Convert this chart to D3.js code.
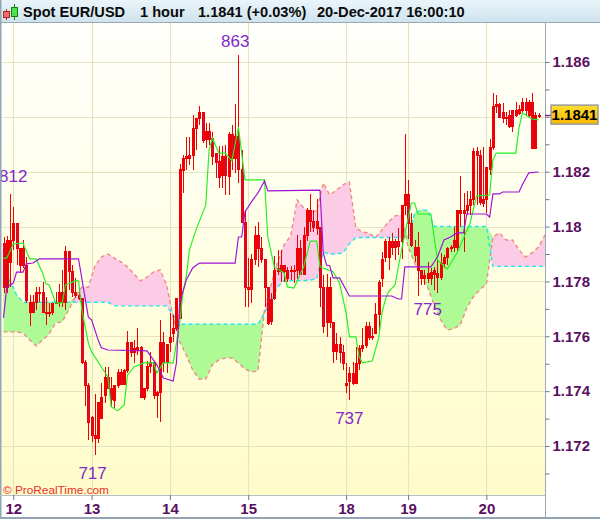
<!DOCTYPE html>
<html><head><meta charset="utf-8">
<script src="https://cdn.jsdelivr.net/npm/d3@7"></script>
<style>html,body{margin:0;padding:0;background:#fff}svg{display:block}</style>
</head><body><svg id="c" width="600" height="519"></svg>
<script>
const opens=[1.17940,1.17779,1.17871,1.17951,1.18013,1.17860,1.17922,1.17860,1.17689,1.17726,1.17726,1.17762,1.17762,1.17689,1.17689,1.17689,1.17722,1.17726,1.17762,1.17726,1.17911,1.17838,1.17762,1.17751,1.17740,1.17507,1.17423,1.17306,1.17241,1.17230,1.17303,1.17386,1.17451,1.17412,1.17368,1.17423,1.17470,1.17426,1.17477,1.17580,1.17543,1.17550,1.17561,1.17378,1.17412,1.17507,1.17507,1.17386,1.17397,1.17580,1.17507,1.17580,1.17612,1.17631,1.17667,1.18206,1.18250,1.18261,1.18261,1.18360,1.18396,1.18418,1.18319,1.18348,1.18323,1.18268,1.18239,1.18188,1.18257,1.18184,1.18337,1.18250,1.18330,1.18210,1.18017,1.17779,1.17772,1.17882,1.17970,1.17922,1.17882,1.17779,1.17656,1.17740,1.17838,1.17838,1.17860,1.17813,1.17842,1.17842,1.17842,1.17922,1.17827,1.17970,1.18061,1.18020,1.17995,1.17999,1.17779,1.17779,1.17653,1.17653,1.17546,1.17572,1.17543,1.17423,1.17437,1.17466,1.17430,1.17503,1.17558,1.17569,1.17638,1.17598,1.17612,1.17681,1.17813,1.17889,1.17889,1.17947,1.17947,1.17947,1.17947,1.18079,1.18118,1.18013,1.17926,1.17926,1.17842,1.17824,1.17813,1.17813,1.17842,1.17831,1.17816,1.17867,1.17889,1.17922,1.17951,1.17926,1.18061,1.18061,1.18061,1.18079,1.18100,1.18275,1.18261,1.18100,1.18100,1.18210,1.18290,1.18439,1.18446,1.18418,1.18400,1.18407,1.18425,1.18407,1.18414,1.18425,1.18454,1.18407,1.18454,1.18286,1.18407];
const highs=[1.17962,1.17966,1.18118,1.18072,1.18013,1.17922,1.17951,1.17889,1.17751,1.17751,1.17779,1.17779,1.17798,1.17744,1.17722,1.17722,1.17762,1.17791,1.17842,1.17929,1.17911,1.17860,1.17813,1.17769,1.17740,1.17514,1.17430,1.17310,1.17390,1.17361,1.17430,1.17488,1.17488,1.17451,1.17423,1.17481,1.17481,1.17481,1.17619,1.17580,1.17587,1.17631,1.17565,1.17412,1.17510,1.17543,1.17510,1.17401,1.17660,1.17616,1.17572,1.17685,1.17678,1.17740,1.18228,1.18261,1.18327,1.18327,1.18407,1.18396,1.18439,1.18418,1.18378,1.18378,1.18345,1.18268,1.18294,1.18294,1.18297,1.18345,1.18370,1.18446,1.18626,1.18279,1.18061,1.17885,1.17900,1.18002,1.18017,1.17962,1.17882,1.17779,1.17758,1.17893,1.17915,1.17915,1.17860,1.17853,1.17856,1.17860,1.17970,1.17951,1.17999,1.18068,1.18118,1.18061,1.18100,1.17999,1.17824,1.17827,1.17816,1.17653,1.17612,1.17598,1.17569,1.17503,1.17488,1.17507,1.17561,1.17569,1.17631,1.17653,1.17653,1.17631,1.17722,1.17805,1.17907,1.17955,1.17962,1.17977,1.17955,1.17995,1.18079,1.18337,1.18170,1.18050,1.17951,1.17980,1.17842,1.17842,1.17871,1.17849,1.17853,1.17878,1.17904,1.17896,1.17926,1.17933,1.17999,1.18061,1.18184,1.18122,1.18129,1.18129,1.18286,1.18290,1.18279,1.18290,1.18217,1.18319,1.18487,1.18480,1.18450,1.18450,1.18418,1.18425,1.18425,1.18454,1.18443,1.18468,1.18468,1.18461,1.18487,1.18418,1.18414];
const lows=[1.17758,1.17758,1.17779,1.17915,1.17860,1.17831,1.17849,1.17722,1.17638,1.17689,1.17696,1.17726,1.17685,1.17642,1.17671,1.17678,1.17722,1.17707,1.17707,1.17696,1.17769,1.17744,1.17740,1.17733,1.17499,1.17346,1.17222,1.17215,1.17168,1.17211,1.17303,1.17357,1.17412,1.17343,1.17339,1.17412,1.17423,1.17423,1.17466,1.17525,1.17503,1.17532,1.17375,1.17368,1.17401,1.17466,1.17372,1.17303,1.17288,1.17470,1.17466,1.17543,1.17580,1.17619,1.17667,1.18122,1.18206,1.18225,1.18206,1.18279,1.18370,1.18305,1.18286,1.18297,1.18225,1.18177,1.18141,1.18141,1.18115,1.18115,1.18206,1.18195,1.18159,1.18017,1.17707,1.17707,1.17722,1.17860,1.17853,1.17867,1.17707,1.17642,1.17642,1.17733,1.17824,1.17798,1.17798,1.17798,1.17805,1.17795,1.17809,1.17827,1.17827,1.17947,1.17980,1.17980,1.17970,1.17707,1.17612,1.17598,1.17631,1.17503,1.17514,1.17503,1.17477,1.17393,1.17368,1.17423,1.17430,1.17477,1.17543,1.17558,1.17587,1.17587,1.17612,1.17612,1.17779,1.17871,1.17842,1.17896,1.17878,1.17896,1.17882,1.18042,1.17955,1.17926,1.17871,1.17747,1.17787,1.17787,1.17795,1.17787,1.17769,1.17758,1.17805,1.17849,1.17860,1.17907,1.17907,1.17907,1.17999,1.17907,1.18042,1.18042,1.18079,1.18079,1.18079,1.18072,1.18050,1.18188,1.18279,1.18414,1.18396,1.18378,1.18370,1.18360,1.18345,1.18400,1.18407,1.18414,1.18407,1.18396,1.18286,1.18286,1.18396];
const closes=[1.17779,1.17951,1.17951,1.18013,1.17922,1.17922,1.17860,1.17733,1.17726,1.17689,1.17762,1.17762,1.17689,1.17689,1.17689,1.17722,1.17726,1.17762,1.17726,1.17911,1.17838,1.17762,1.17751,1.17740,1.17507,1.17423,1.17288,1.17241,1.17230,1.17361,1.17378,1.17451,1.17412,1.17372,1.17423,1.17470,1.17426,1.17477,1.17580,1.17543,1.17558,1.17561,1.17378,1.17412,1.17492,1.17492,1.17386,1.17397,1.17580,1.17507,1.17572,1.17598,1.17631,1.17740,1.18210,1.18250,1.18257,1.18250,1.18360,1.18396,1.18418,1.18316,1.18348,1.18319,1.18257,1.18235,1.18181,1.18257,1.18188,1.18337,1.18250,1.18330,1.18210,1.18017,1.17779,1.17772,1.17882,1.17970,1.17922,1.17882,1.17779,1.17649,1.17736,1.17842,1.17849,1.17860,1.17838,1.17842,1.17842,1.17842,1.17922,1.17827,1.17970,1.18061,1.18020,1.17999,1.18020,1.17779,1.17638,1.17653,1.17779,1.17546,1.17572,1.17543,1.17503,1.17430,1.17466,1.17430,1.17503,1.17558,1.17569,1.17638,1.17598,1.17601,1.17681,1.17798,1.17882,1.17947,1.17947,1.17926,1.17926,1.17929,1.18079,1.18118,1.18013,1.17933,1.17896,1.17842,1.17813,1.17813,1.17831,1.17835,1.17827,1.17816,1.17867,1.17889,1.17922,1.17926,1.17926,1.18061,1.18050,1.18050,1.18079,1.18100,1.18275,1.18261,1.18090,1.18086,1.18217,1.18290,1.18439,1.18446,1.18400,1.18396,1.18396,1.18367,1.18367,1.18425,1.18429,1.18454,1.18425,1.18454,1.18286,1.18407,1.18407];

const conversionBars=[0,1,2,3,6,8,10,12,13,14,16,18,19,22,23,24,26,27,30,32,33,35,37,38,40,43,46,47,49,52,53,54,55,56,57,59,62,63,64,66,68,70,72,74,80,81,83,86,87,89,92,94,96,97,98,101,103,105,106,108,109,110,113,115,116,117,118,120,122,125,126,127,131,133,136,139,143,145,149,150,151,157,158,159,162,164];
const conversionLine=[1.17885,1.17885,1.17911,1.17937,1.17940,1.17882,1.17882,1.17831,1.17791,1.17787,1.17722,1.17722,1.17787,1.17802,1.17802,1.17696,1.17576,1.17543,1.17488,1.17452,1.17343,1.17328,1.17350,1.17459,1.17488,1.17503,1.17503,1.17466,1.17503,1.17503,1.17576,1.17649,1.17758,1.17816,1.17915,1.17988,1.18079,1.18279,1.18323,1.18268,1.18268,1.18239,1.18363,1.18170,1.18170,1.17962,1.17853,1.17831,1.17780,1.17776,1.17853,1.17947,1.17947,1.17853,1.17849,1.17835,1.17794,1.17685,1.17598,1.17598,1.17525,1.17503,1.17510,1.17594,1.17685,1.17733,1.17762,1.17787,1.17915,1.18086,1.18086,1.18046,1.18046,1.17878,1.17845,1.17904,1.18013,1.18112,1.18115,1.18243,1.18268,1.18268,1.18360,1.18414,1.18392,1.18389];
const baseBars=[0,1,3,4,6,7,9,11,23,26,27,29,30,32,44,47,49,52,53,54,56,58,60,71,72,73,74,76,78,80,81,97,98,99,100,101,103,106,119,121,122,123,131,133,135,137,139,141,142,148,149,150,152,153,158,159,161,164];
const baseLine=[1.17667,1.17780,1.17794,1.17834,1.17834,1.17864,1.17867,1.17882,1.17882,1.17670,1.17660,1.17587,1.17558,1.17550,1.17547,1.17496,1.17448,1.17437,1.17503,1.17722,1.17805,1.17849,1.17867,1.17867,1.17962,1.17962,1.18053,1.18090,1.18123,1.18166,1.18130,1.18133,1.17904,1.17860,1.17857,1.17813,1.17813,1.17747,1.17747,1.17736,1.17736,1.17853,1.17853,1.17889,1.17951,1.17962,1.17977,1.17977,1.18046,1.18046,1.18035,1.18119,1.18119,1.18126,1.18126,1.18152,1.18196,1.18199];

const cloudBars=[0,2,4,6,8,10,12,14,16,18,20,22,24,26,28,30,32,34,36,38,40,42,44,46,48,50,52,54,56,58,60,62,64,66,68,70,72,74,76,78,80,82,84,86,88,90,92,94,96,98,100,102,104,106,108,110,112,114,116,118,120,122,124,126,128,130,132,134,136,138,140,142,144,146,148,150,152,154,156,158,160,162,164,166];
const spanA=[1.17616,1.17616,1.17616,1.17612,1.17587,1.17565,1.17587,1.17609,1.17649,1.17653,1.17696,1.17744,1.17779,1.17779,1.17856,1.17889,1.17900,1.17885,1.17871,1.17853,1.17827,1.17802,1.17816,1.17835,1.17842,1.17787,1.17667,1.17580,1.17532,1.17477,1.17444,1.17444,1.17496,1.17514,1.17521,1.17521,1.17503,1.17481,1.17470,1.17474,1.17696,1.17787,1.17871,1.17933,1.17966,1.18097,1.18068,1.18053,1.18057,1.18159,1.18115,1.18133,1.18152,1.18163,1.17995,1.17980,1.17977,1.17959,1.17988,1.18017,1.18039,1.18042,1.17926,1.17867,1.17824,1.17779,1.17714,1.17660,1.17623,1.17627,1.17642,1.17703,1.17744,1.17769,1.17791,1.17962,1.17977,1.17951,1.17951,1.17915,1.17889,1.17904,1.17926,1.17970];
const spanB=[1.17824,1.17802,1.17751,1.17724,1.17724,1.17724,1.17724,1.17724,1.17724,1.17724,1.17724,1.17724,1.17724,1.17724,1.17724,1.17724,1.17724,1.17711,1.17711,1.17711,1.17711,1.17711,1.17711,1.17711,1.17711,1.17711,1.17678,1.17644,1.17644,1.17644,1.17644,1.17644,1.17644,1.17644,1.17644,1.17644,1.17644,1.17644,1.17644,1.17644,1.17685,1.17729,1.17779,1.17803,1.17803,1.17803,1.17803,1.17805,1.17809,1.17907,1.17900,1.17900,1.17904,1.17937,1.17960,1.17960,1.17960,1.17960,1.17960,1.17960,1.17960,1.17960,1.17960,1.18050,1.18060,1.18060,1.18000,1.18000,1.18000,1.18000,1.18000,1.18000,1.18000,1.18000,1.18000,1.17855,1.17855,1.17855,1.17855,1.17855,1.17855,1.17855,1.17855,1.17855];

const dayLabels=["12","13","14","15","18","19","20"];
const dayBars=[3,27,51,75,105,124,148];
const priceTicks=[1.186,1.185,1.184,1.183,1.182,1.181,1.18,1.179,1.178,1.177,1.176,1.175,1.174,1.173,1.172,1.171];
const priceLabels=["1.186","","","","1.182","","1.18","","1.178","","1.176","","1.174","","1.172",""];
const gridPrices=[1.186,1.184,1.182,1.18,1.178,1.176,1.174,1.172];
const noteTexts=["812","863","717","737","775"];
const noteBars=[3,71,27.3,106,130];
const notePrices=[1.18163,1.18655,1.17078,1.17281,1.17678];
const lastPrice=1.1841;
const titleParts=["Spot EUR/USD","1 hour","1.1841 (+0.03%)","20-Dec-2017 16:00:10"];
const titleX=[23,140,198,317];
const credit="© ProRealTime.com";

const svg=d3.select("#c");
const W=600,H=519,L=2,T=23,R=545,B=495;
const x=d3.scaleLinear().domain([0,164]).range([3.5,538.6]);
const y=d3.scaleLinear().domain([1.186,1.172]).range([62,446]);
const defs=svg.append("defs");
const grad=(id,stops)=>{const g=defs.append("linearGradient").attr("id",id).attr("x1",0).attr("x2",0).attr("y1",0).attr("y2",1);
 stops.forEach(s=>g.append("stop").attr("offset",s[0]).attr("stop-color",s[1]));};
grad("bg",[[0,"#fffffc"],[0.4,"#ffffea"],[0.75,"#fffdd4"],[1,"#fffcca"]]);
grad("hd",[[0,"#eaf5fa"],[1,"#cfe3ed"]]);
grad("gold",[[0,"#ffdf30"],[1,"#f8b800"]]);
defs.append("clipPath").attr("id","plot").append("rect").attr("x",L).attr("y",T).attr("width",R-L).attr("height",B-T);

svg.append("rect").attr("width",W).attr("height",H).attr("fill","#fff");
svg.append("rect").attr("x",L).attr("y",T).attr("width",R-L).attr("height",B-T).attr("fill","url(#bg)");

const plot=svg.append("g").attr("clip-path","url(#plot)");
plot.selectAll("line.h").data(gridPrices).join("line").attr("x1",L).attr("x2",R)
 .attr("y1",d=>Math.round(y(d))+.5).attr("y2",d=>Math.round(y(d))+.5).attr("stroke","#e4e4c0").attr("stroke-width",1.2);
plot.selectAll("line.v").data(dayBars).join("line").attr("y1",T).attr("y2",B)
 .attr("x1",d=>Math.round(x(d))+.5).attr("x2",d=>Math.round(x(d))+.5).attr("stroke","#e4e4c0").attr("stroke-width",1.2);

const cloud=cloudBars.map((b,i)=>({b,a:spanA[i],s:spanB[i]}));
const area=(lo)=>d3.area().x(d=>x(d.b)).y0(d=>y(d[lo])).y1(d=>y(Math.max(d.a,d.s)));
plot.append("path").datum(cloud).attr("d",area("s")).attr("fill","#fccbe6");
plot.append("path").datum(cloud).attr("d",area("a")).attr("fill","#aefb96");
const ln=(k)=>d3.line().x(d=>x(d.b)).y(d=>y(d[k]));
plot.append("path").datum(cloud).attr("d",ln("a")).attr("fill","none").attr("stroke","#f08a88").attr("stroke-width",1.4).attr("stroke-dasharray","4 3");
plot.append("path").datum(cloud).attr("d",ln("s")).attr("fill","none").attr("stroke","#22e4f2").attr("stroke-width",1.4).attr("stroke-dasharray","4 3");

const bars=opens.map((o,i)=>({i,o,h:highs[i],l:lows[i],c:closes[i]}));
const cg=plot.append("g").attr("shape-rendering","crispEdges");
const cx=d=>Math.round(x(d.i))+.5;
cg.selectAll("line.w").data(bars).join("line").attr("x1",cx).attr("x2",cx)
 .attr("y1",d=>y(d.h)).attr("y2",d=>y(d.l)).attr("stroke","#f00000");
cg.selectAll("rect").data(bars).join("rect")
 .attr("x",d=>cx(d)-1).attr("width",2)
 .attr("y",d=>Math.round(y(Math.max(d.o,d.c)))+.5)
 .attr("height",d=>Math.max(1,Math.round(y(Math.min(d.o,d.c)))-Math.round(y(Math.max(d.o,d.c)))))
 .attr("fill",d=>d.c<d.o?"#c8104c":"url(#bg)").attr("fill-opacity",d=>d.c<d.o?1:0).attr("stroke","#f00000");

const path=(bs,vs,c)=>plot.append("path").datum(bs.map((b,i)=>({b,v:vs[i]})))
 .attr("d",d3.line().x(d=>x(d.b)).y(d=>y(d.v))).attr("fill","none").attr("stroke",c).attr("stroke-width",1.15);
path(conversionBars,conversionLine,"#22f022");
path(baseBars,baseLine,"#a010d8");

svg.append("g").selectAll("text").data(noteTexts).join("text").text(d=>d)
 .attr("x",(d,i)=>x(noteBars[i])).attr("y",(d,i)=>y(notePrices[i])).attr("text-anchor","middle")
 .attr("font-family","Liberation Sans").attr("font-size",17).attr("fill","#8428cc");

svg.append("text").text(credit).attr("x",3).attr("y",494).attr("font-family","Liberation Sans").attr("font-size",11.8).attr("fill","#e83030");

// frames
svg.append("rect").attr("x",0).attr("y",0).attr("width",W).attr("height",T-1).attr("fill","url(#hd)");
svg.append("line").attr("x1",0).attr("x2",W).attr("y1",22.5).attr("y2",22.5).attr("stroke","#98a8b4");
svg.append("rect").attr("x",0).attr("y",0).attr("width",1.5).attr("height",H).attr("fill","#93a5b3");
svg.append("rect").attr("x",0).attr("y",517).attr("width",W).attr("height",2).attr("fill","#93a5b3");
svg.append("line").attr("x1",R+.5).attr("x2",R+.5).attr("y1",T).attr("y2",517).attr("stroke","#9aa8b4");
svg.append("line").attr("x1",0).attr("x2",R).attr("y1",B+.5).attr("y2",B+.5).attr("stroke","#b8c0c6");

// title
const ic=svg.append("g").attr("shape-rendering","crispEdges");
ic.append("line").attr("x1",6.5).attr("x2",6.5).attr("y1",9).attr("y2",20).attr("stroke","#b02020");
ic.append("rect").attr("x",3.5).attr("y",11.5).attr("width",6).attr("height",6).attr("fill","#f07070").attr("stroke","#b02020");
ic.append("line").attr("x1",14.5).attr("x2",14.5).attr("y1",4).attr("y2",20).attr("stroke","#108010");
ic.append("rect").attr("x",11.5).attr("y",7.5).attr("width",6).attr("height",9).attr("fill","#50e050").attr("stroke","#108010");
svg.append("g").selectAll("text").data(titleParts).join("text").text(d=>d).attr("x",(d,i)=>titleX[i]).attr("y",17)
 .attr("font-family","Liberation Sans").attr("font-weight","bold").attr("font-size",14.6).attr("fill","#0a0a0a");

// axes
const ay=svg.append("g").attr("transform",`translate(${R+.5},0)`)
 .call(d3.axisRight(y).tickValues(priceTicks).tickSize(4).tickPadding(3).tickFormat((d,i)=>priceLabels[i]));
ay.select(".domain").remove();
ay.selectAll("line").attr("stroke","#6a7a88");
ay.selectAll("text").attr("font-family","Liberation Sans").attr("font-weight","bold").attr("font-size",15).attr("fill","#5a1060");
const ax=svg.append("g").attr("transform",`translate(0,${B})`)
 .call(d3.axisBottom(x).tickValues(dayBars).tickSize(5).tickPadding(3).tickFormat((d,i)=>dayLabels[i]));
ax.select(".domain").remove();
ax.selectAll("line").attr("stroke","#6a7a88");
ax.selectAll("text").attr("font-family","Liberation Sans").attr("font-weight","bold").attr("font-size",15).attr("fill","#5a1060");

// last price
const ly=y(lastPrice);
svg.append("line").attr("x1",R).attr("x2",551).attr("y1",Math.round(ly)+1.5).attr("y2",Math.round(ly)+1.5).attr("stroke","#7a1a80").attr("stroke-width",1.3);
svg.append("rect").attr("x",551).attr("y",ly-9).attr("width",47).attr("height",19).attr("fill","url(#gold)").attr("stroke","#9a9a9a").attr("stroke-width",1.5);
svg.append("text").text(lastPrice.toFixed(4)).attr("x",574.5).attr("y",ly+5.5).attr("text-anchor","middle")
 .attr("font-family","Liberation Sans").attr("font-weight","bold").attr("font-size",15).attr("fill","#000");
</script></body></html>
